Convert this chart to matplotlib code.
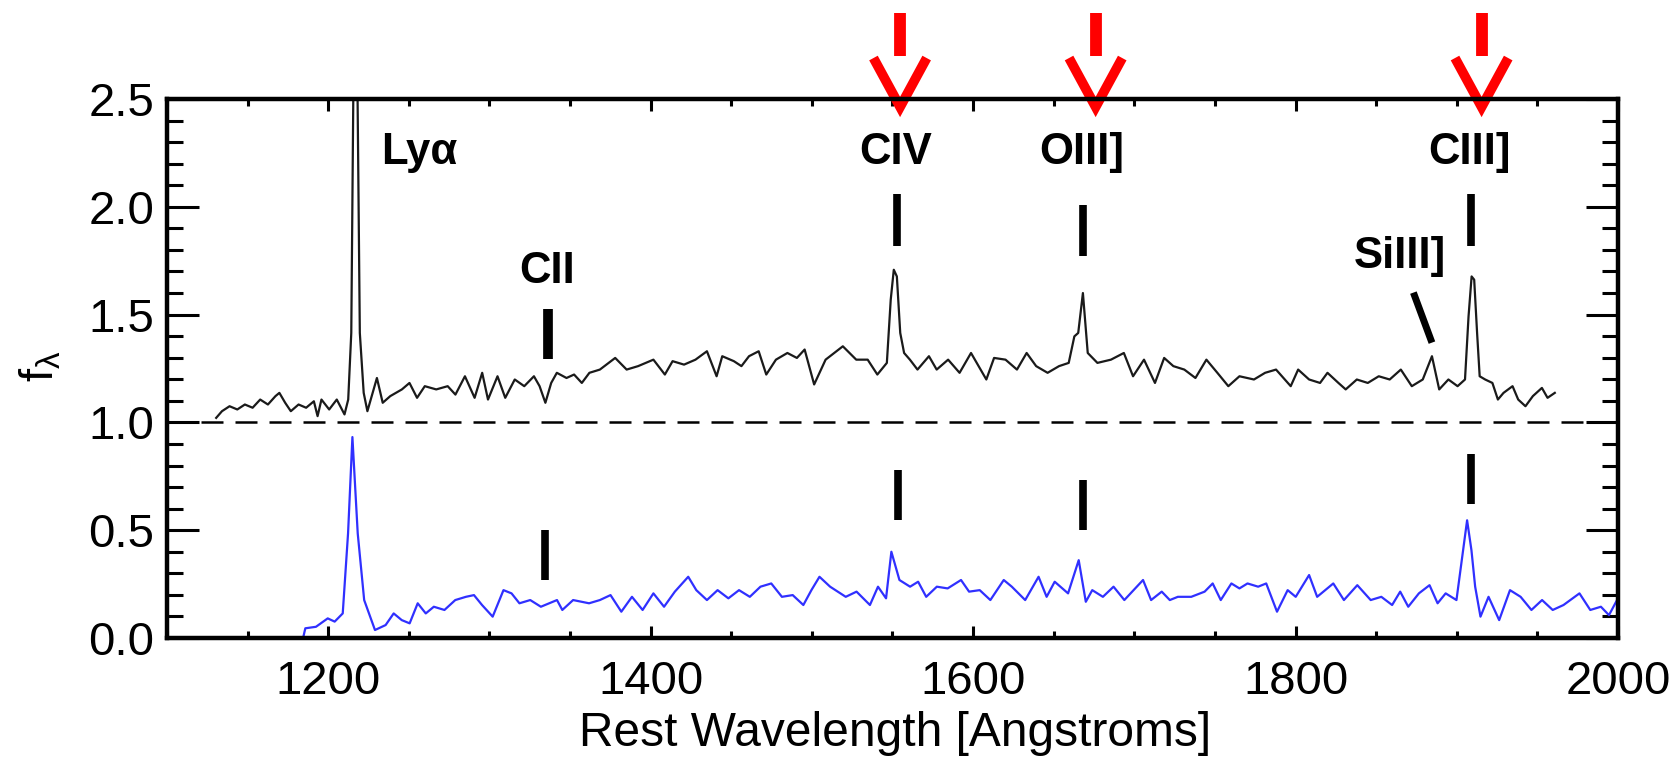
import matplotlib
matplotlib.use("Agg")
import matplotlib.pyplot as plt
from matplotlib.ticker import MultipleLocator

# ---------------- data ----------------
# upper (black) spectrum, offset by +1
top_wave = [1130.5, 1134.1, 1138.8, 1143.6, 1148.3, 1153.1, 1157.8, 1162.6, 1167.3, 1169.7,
            1173.3, 1176.8, 1181.6, 1186.3, 1191.1, 1193.4, 1195.8, 1200.6, 1205.3, 1210.1,
            1212.4, 1214.3, 1216.0, 1217.7, 1219.6, 1222.0, 1224.3, 1230.2, 1233.8, 1238.5,
            1245.7, 1250.4, 1255.1, 1259.9, 1267.0, 1274.1, 1278.9, 1284.8, 1290.8, 1295.5,
            1299.1, 1305.0, 1309.8, 1315.7, 1321.6, 1327.6, 1331.1, 1334.7, 1338.3, 1341.8,
            1347.8, 1352.5, 1357.3, 1362.0, 1368.5, 1378.0, 1385.1, 1392.2, 1401.7, 1408.8,
            1413.6, 1420.7, 1427.8, 1434.9, 1440.9, 1444.4, 1451.6, 1456.3, 1461.0, 1467.0,
            1471.7, 1477.7, 1484.8, 1490.7, 1495.5, 1501.4, 1508.5, 1519.2, 1527.5, 1534.6,
            1540.6, 1546.5, 1548.9, 1550.8, 1552.7, 1554.8, 1557.2, 1560.8, 1565.5, 1572.6,
            1577.4, 1584.5, 1591.6, 1598.7, 1608.2, 1613.0, 1620.1, 1627.2, 1633.2, 1639.1,
            1646.2, 1653.3, 1659.3, 1662.8, 1665.2, 1668.1, 1671.1, 1677.1, 1685.5, 1693.5,
            1699.2, 1706.0, 1712.8, 1718.5, 1724.2, 1731.0, 1737.9, 1744.7, 1751.5, 1758.3,
            1765.2, 1774.2, 1781.1, 1787.9, 1797.0, 1801.6, 1808.4, 1815.2, 1819.8, 1826.6,
            1831.1, 1838.0, 1844.8, 1851.6, 1858.4, 1865.3, 1872.1, 1878.9, 1884.6, 1889.1,
            1894.8, 1900.5, 1905.1, 1907.3, 1909.2, 1910.8, 1912.6, 1914.2, 1917.6, 1922.1,
            1925.5, 1929.0, 1934.6, 1938.1, 1942.6, 1947.2, 1952.8, 1956.3, 1960.8]
top_flux = [1.021, 1.052, 1.075, 1.060, 1.083, 1.068, 1.106, 1.083, 1.122, 1.137,
            1.091, 1.052, 1.083, 1.068, 1.098, 1.029, 1.106, 1.060, 1.106, 1.037,
            1.106, 1.415, 2.900, 2.900, 1.415, 1.137, 1.052, 1.206, 1.091, 1.122,
            1.153, 1.183, 1.114, 1.168, 1.153, 1.168, 1.129, 1.214, 1.114, 1.230,
            1.106, 1.214, 1.114, 1.199, 1.168, 1.214, 1.168, 1.091, 1.183, 1.230,
            1.206, 1.222, 1.183, 1.230, 1.245, 1.299, 1.245, 1.261, 1.291, 1.222,
            1.284, 1.268, 1.291, 1.330, 1.214, 1.307, 1.284, 1.261, 1.307, 1.330,
            1.222, 1.291, 1.322, 1.299, 1.338, 1.176, 1.291, 1.353, 1.291, 1.291,
            1.222, 1.276, 1.569, 1.708, 1.677, 1.415, 1.322, 1.291, 1.245, 1.307,
            1.245, 1.291, 1.230, 1.322, 1.199, 1.299, 1.291, 1.245, 1.322, 1.261,
            1.230, 1.261, 1.276, 1.399, 1.415, 1.600, 1.322, 1.276, 1.291, 1.322,
            1.214, 1.291, 1.183, 1.299, 1.261, 1.245, 1.206, 1.291, 1.230, 1.168,
            1.214, 1.199, 1.230, 1.245, 1.168, 1.245, 1.199, 1.183, 1.230, 1.183,
            1.153, 1.199, 1.183, 1.214, 1.199, 1.245, 1.168, 1.199, 1.307, 1.153,
            1.199, 1.168, 1.199, 1.492, 1.677, 1.662, 1.415, 1.214, 1.199, 1.183,
            1.106, 1.137, 1.168, 1.106, 1.075, 1.122, 1.160, 1.114, 1.137]

# lower (blue) spectrum
bot_wave = [1184.1, 1185.8, 1192.4, 1199.7, 1204.0, 1209.0, 1212.3, 1215.0, 1218.3, 1222.3,
            1229.0, 1235.6, 1240.6, 1245.6, 1250.5, 1255.5, 1260.5, 1265.5, 1272.1, 1278.8,
            1285.4, 1290.4, 1295.4, 1302.0, 1308.7, 1313.7, 1318.6, 1325.3, 1331.9, 1341.9,
            1345.2, 1351.9, 1361.8, 1368.5, 1375.1, 1381.8, 1388.4, 1395.0, 1401.7, 1408.3,
            1415.0, 1423.3, 1428.3, 1434.9, 1441.5, 1448.2, 1454.8, 1461.5, 1468.1, 1474.8,
            1481.4, 1488.1, 1494.7, 1499.7, 1504.7, 1511.3, 1521.0, 1527.7, 1536.0, 1541.0,
            1546.0, 1549.3, 1554.3, 1560.9, 1565.9, 1570.9, 1577.5, 1584.2, 1592.5, 1597.5,
            1604.1, 1610.7, 1619.0, 1624.0, 1632.3, 1640.6, 1645.6, 1650.6, 1658.9, 1665.5,
            1669.9, 1673.9, 1680.5, 1687.1, 1693.8, 1705.4, 1710.4, 1717.0, 1722.0, 1727.0,
            1735.3, 1743.6, 1748.6, 1753.6, 1760.2, 1765.2, 1770.2, 1776.8, 1781.8, 1788.5,
            1795.1, 1800.1, 1808.4, 1813.4, 1823.4, 1830.0, 1838.3, 1846.6, 1853.2, 1859.9,
            1864.9, 1869.9, 1876.5, 1883.1, 1888.1, 1893.1, 1899.8, 1903.1, 1906.4, 1909.1,
            1911.4, 1914.7, 1919.7, 1926.3, 1933.0, 1939.6, 1946.3, 1952.9, 1959.5, 1966.2,
            1976.1, 1982.8, 1989.4, 1994.4, 1999.4]
bot_flux = [-0.010, 0.045, 0.052, 0.091, 0.076, 0.114, 0.485, 0.932, 0.485, 0.176,
            0.037, 0.060, 0.114, 0.083, 0.068, 0.161, 0.114, 0.145, 0.130, 0.176,
            0.191, 0.199, 0.153, 0.099, 0.222, 0.207, 0.161, 0.176, 0.145, 0.176,
            0.130, 0.176, 0.161, 0.176, 0.199, 0.122, 0.191, 0.130, 0.207, 0.145,
            0.215, 0.284, 0.222, 0.176, 0.222, 0.184, 0.222, 0.191, 0.238, 0.253,
            0.191, 0.199, 0.153, 0.222, 0.284, 0.238, 0.191, 0.215, 0.153, 0.238,
            0.184, 0.400, 0.269, 0.238, 0.261, 0.191, 0.238, 0.230, 0.269, 0.215,
            0.222, 0.176, 0.269, 0.238, 0.176, 0.284, 0.191, 0.261, 0.207, 0.361,
            0.168, 0.222, 0.191, 0.238, 0.176, 0.269, 0.176, 0.215, 0.176, 0.191,
            0.191, 0.215, 0.253, 0.176, 0.253, 0.230, 0.253, 0.238, 0.253, 0.122,
            0.222, 0.191, 0.292, 0.191, 0.253, 0.176, 0.245, 0.176, 0.191, 0.153,
            0.215, 0.145, 0.207, 0.245, 0.161, 0.207, 0.176, 0.361, 0.546, 0.407,
            0.238, 0.099, 0.191, 0.083, 0.222, 0.191, 0.130, 0.176, 0.130, 0.153,
            0.207, 0.130, 0.145, 0.106, 0.176]

# line identifications
line_names = ["Lyα", "CII", "CIV", "OIII]", "SiIII]", "CIII]"]
label_x = [1256.3, 1335.7, 1552.2, 1667.5, 1864.8, 1908.2]
label_y = [2.20, 1.648, 2.20, 2.20, 1.718, 2.20]

# marker bars: upper panel and lower panel
bar_top_x = [1336.3, 1553.1, 1668.2, 1908.7]
bar_top_y1 = [1.528, 2.060, 2.009, 2.060]
bar_top_y0 = [1.292, 1.819, 1.773, 1.819]
bar_bot_x = [1334.3, 1553.3, 1668.2, 1908.7]
bar_bot_y1 = [0.500, 0.778, 0.731, 0.855]
bar_bot_y0 = [0.269, 0.546, 0.500, 0.620]
siiii_x = [1873.1, 1884.6]
siiii_y = [1.602, 1.370]

# red arrows above the frame
arrow_x = [1554.7, 1676.0, 1915.4]

# ---------------- figure ----------------
plt.rcParams["font.family"] = ["Liberation Sans", "DejaVu Sans"]
plt.rcParams["mathtext.fontset"] = "custom"
plt.rcParams["mathtext.rm"] = "Liberation Sans"
plt.rcParams["mathtext.it"] = "Liberation Sans:italic"

fig = plt.figure(figsize=(16.75, 7.59), dpi=100)
ax = fig.add_axes([167 / 1675, 1 - 638 / 759, (1618 - 167) / 1675, (638 - 99) / 759])

ax.plot(top_wave, top_flux, color="#1a1a1a", lw=1.6)
ax.plot(bot_wave, bot_flux, color="#3030ff", lw=1.6)
ax.axhline(1.0, color="black", lw=1.8, dashes=(8.8, 4.8))

for i, (x, a, b) in enumerate(zip(bar_top_x, bar_top_y0, bar_top_y1)):
    ax.plot([x, x], [a, b], color="black", lw=7.0 if i == 0 else 5.5, solid_capstyle="butt")
for x, a, b in zip(bar_bot_x, bar_bot_y0, bar_bot_y1):
    ax.plot([x, x], [a, b], color="black", lw=5.5, solid_capstyle="butt")
ax.plot(siiii_x, siiii_y, color="black", lw=5.0, solid_capstyle="butt")

for name, x, y in zip(line_names, label_x, label_y):
    ax.text(x, y, name, ha="center", va="baseline", fontsize=31.5, fontweight="bold",
            color="black")

for x in arrow_x:
    ax.plot([x, x], [2.90, 2.70], color="red", lw=8.5, solid_capstyle="butt", clip_on=False)
    ax.plot([x - 16.5, x, x + 16.5], [2.69, 2.463, 2.69], color="red", lw=7.0,
            solid_capstyle="butt", solid_joinstyle="miter", clip_on=False)

ax.set_xlim(1100, 2000)
ax.set_ylim(0.0, 2.5)
ax.xaxis.set_major_locator(MultipleLocator(200))
ax.xaxis.set_minor_locator(MultipleLocator(50))
ax.yaxis.set_major_locator(MultipleLocator(0.5))
ax.yaxis.set_minor_locator(MultipleLocator(0.1))
ax.yaxis.set_major_formatter(plt.FuncFormatter(lambda v, p: f"{v:.1f}"))

for s in ax.spines.values():
    s.set_linewidth(3.2)
ax.tick_params(axis="both", which="both", direction="in", width=2.2, colors="black",
               labelsize=34)
ax.tick_params(axis="y", which="major", length=23, pad=9, left=True, right=True)
ax.tick_params(axis="y", which="minor", length=11.5, left=True, right=True)
ax.tick_params(axis="x", which="major", length=8.6, pad=16, top=True, bottom=True)
ax.tick_params(axis="x", which="minor", length=5, top=True, bottom=True)

ax.set_xlabel("Rest Wavelength [Angstroms]", fontsize=34.5)
ax.xaxis.set_label_coords(0.502, -0.135)
ax.xaxis.label.set_va("top")
ax.set_ylabel(r"f$_{\mathregular{λ}}$", fontsize=34)
ax.yaxis.set_label_coords(-0.071, 0.504)

fig.savefig("out.png", dpi=100)
